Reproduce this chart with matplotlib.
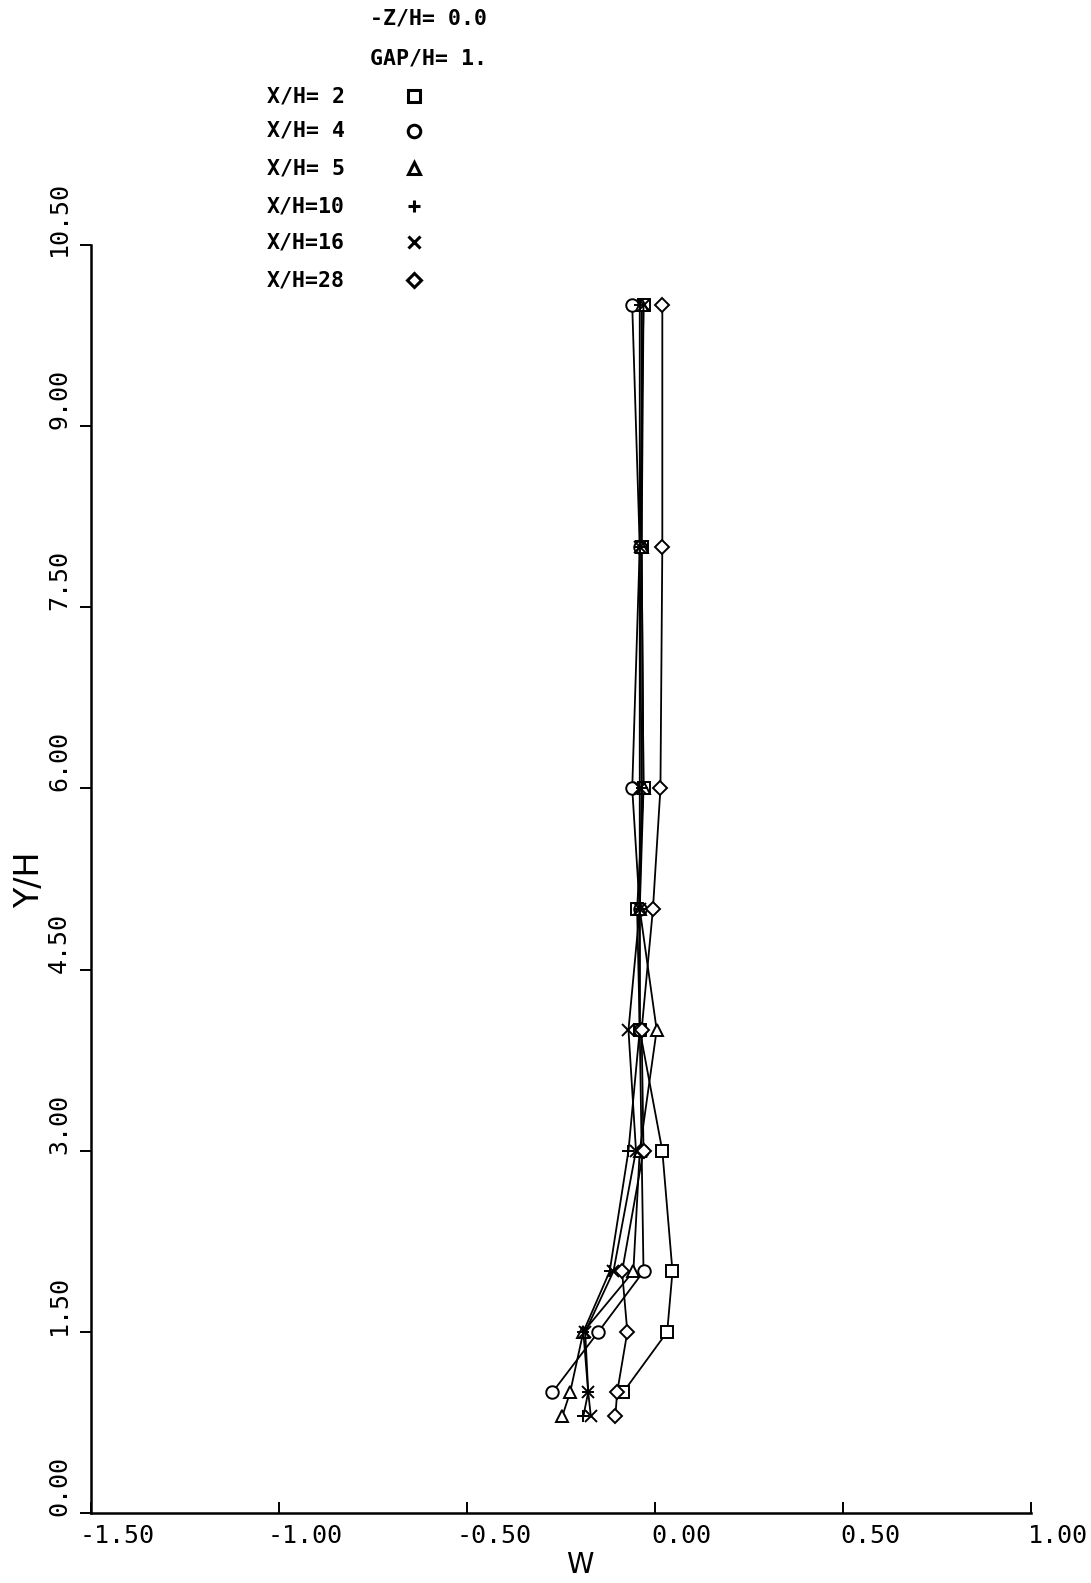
import matplotlib
matplotlib.use("Agg")
import matplotlib.pyplot as plt
import matplotlib.transforms as mtransforms
from matplotlib.lines import Line2D

# ------------------------------
# Profile data (W vs Y/H)
# ------------------------------
stations = ["X/H= 2", "X/H= 4", "X/H= 5", "X/H=10", "X/H=16", "X/H=28"]
markers = ["s", "o", "^", "+", "x", "D"]

y_x2 = [1.0, 1.5, 2.0, 3.0, 4.0, 5.0, 6.0, 8.0, 10.0]
w_x2 = [-0.084, 0.033, 0.047, 0.020, -0.040, -0.047, -0.030, -0.035, -0.030]

y_x4 = [1.0, 1.5, 2.0, 3.0, 4.0, 5.0, 6.0, 8.0, 10.0]
w_x4 = [-0.272, -0.150, -0.030, -0.035, -0.040, -0.040, -0.060, -0.040, -0.060]

y_x5 = [0.8, 1.0, 1.5, 2.0, 3.0, 4.0, 5.0, 6.0, 8.0, 10.0]
w_x5 = [-0.246, -0.225, -0.190, -0.057, -0.040, 0.005, -0.040, -0.030, -0.035, -0.035]

y_x10 = [0.8, 1.0, 1.5, 2.0, 3.0, 4.0, 5.0, 6.0, 8.0, 10.0]
w_x10 = [-0.190, -0.177, -0.190, -0.120, -0.070, -0.040, -0.040, -0.035, -0.040, -0.040]

y_x16 = [0.8, 1.0, 1.5, 2.0, 3.0, 4.0, 5.0, 6.0, 8.0, 10.0]
w_x16 = [-0.170, -0.177, -0.185, -0.110, -0.050, -0.070, -0.040, -0.040, -0.040, -0.030]

y_x28 = [0.8, 1.0, 1.5, 2.0, 3.0, 4.0, 5.0, 6.0, 8.0, 10.0]
w_x28 = [-0.105, -0.100, -0.073, -0.087, -0.030, -0.035, -0.005, 0.015, 0.020, 0.020]

series = [(w_x2, y_x2), (w_x4, y_x4), (w_x5, y_x5),
          (w_x10, y_x10), (w_x16, y_x16), (w_x28, y_x28)]

x_ticks = [-1.5, -1.0, -0.5, 0.0, 0.5, 1.0]
x_labels = ["-1.50", "-1.00", "-0.50", "0.00", "0.50", "1.00"]
y_ticks = [0.0, 1.5, 3.0, 4.5, 6.0, 7.5, 9.0, 10.5]
y_labels = ["0.00", "1.50", "3.00", "4.50", "6.00", "7.50", "9.00", "10.50"]

W, H = 1091, 1583
fig = plt.figure(figsize=(W / 100, H / 100), dpi=100)
ax = fig.add_axes([90.5 / W, 70 / H, (1031 - 90.5) / W, (1513 - 245) / H])

MONO = "DejaVu Sans Mono"

for (w, y), m in zip(series, markers):
    ms = 7 if m == "D" else 9
    ax.plot(w, y, color="black", lw=1.3, marker=m, ms=ms, mfc="white",
            mec="black", mew=1.4)

ax.set_xlim(-1.5, 1.0)
ax.set_ylim(0.0, 10.5)
for s in ["top", "right"]:
    ax.spines[s].set_visible(False)
for s in ["left", "bottom"]:
    ax.spines[s].set_linewidth(1.8)

ax.set_xticks(x_ticks)
ax.set_xticklabels(x_labels, fontfamily=MONO, fontsize=18)
ax.set_yticks(y_ticks)
ax.set_yticklabels(y_labels, fontfamily=MONO, fontsize=18, rotation=90,
                   va="center")
ax.tick_params(axis="x", direction="in", length=8, width=1.4, pad=8)
ax.tick_params(axis="y", direction="out", length=8, width=1.4, pad=6)

# plotter-style label offsets
dx = mtransforms.ScaledTranslation(0.27, 0, fig.dpi_scale_trans)
for lbl in ax.get_xticklabels():
    lbl.set_transform(lbl.get_transform() + dx)
dy = mtransforms.ScaledTranslation(0, 0.27, fig.dpi_scale_trans)
for lbl in ax.get_yticklabels():
    lbl.set_transform(lbl.get_transform() + dy)

fig.text(580 / W, 1 - 1579 / H, "W", fontfamily="DejaVu Sans", fontsize=20,
         ha="center", va="bottom")
fig.text(30 / W, 1 - 880 / H, "Y/H", fontfamily="DejaVu Sans", fontsize=24,
         rotation=90, ha="center", va="center")

# header text and station key
fig.text(370 / W, 1 - 18 / H, "-Z/H= 0.0", fontfamily=MONO, fontsize=15.5,
         fontweight="bold", va="center")
fig.text(370 / W, 1 - 58 / H, "GAP/H= 1.", fontfamily=MONO, fontsize=15.5,
         fontweight="bold", va="center")

key_rows = [96, 131, 168, 206, 242, 280]
for label, m, yr in zip(stations, markers, key_rows):
    fig.text(267 / W, 1 - yr / H, label, fontfamily=MONO, fontsize=15.5,
             fontweight="bold", va="center")
    ms = 7 if m == "D" else 9
    fig.add_artist(Line2D([414 / W], [1 - yr / H], transform=fig.transFigure,
                          marker=m, ms=ms, mfc="white", mec="black", mew=2.2,
                          color="black"))

fig.savefig("out.png", dpi=100)
